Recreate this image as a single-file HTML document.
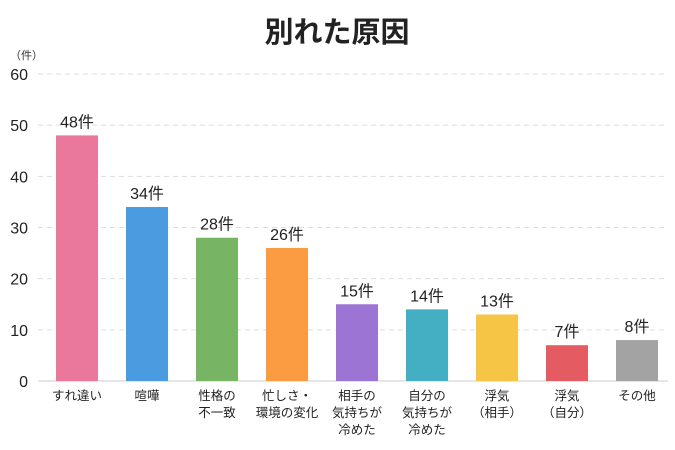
<!DOCTYPE html>
<html><head><meta charset="utf-8"><style>
body{margin:0;background:#fff;}
svg{display:block;font-family:"Liberation Sans","Noto Sans CJK JP",sans-serif;}
</style></head><body>
<svg id="c" width="675" height="450">
<text x="337" y="42" text-anchor="middle" font-size="29" font-weight="bold" fill="#222">別れた原因</text>
<text x="10" y="59" font-size="11" fill="#333">（件）</text>
<g id="grid"></g><g id="bars"></g><g id="labels"></g>
</svg>
<script>
const categories=[["すれ違い"],["喧嘩"],["性格の","不一致"],["忙しさ・","環境の変化"],["相手の","気持ちが","冷めた"],["自分の","気持ちが","冷めた"],["浮気","（相手）"],["浮気","（自分）"],["その他"]];
const values=[48,34,28,26,15,14,13,7,8];
const colors=["#ea779c","#4a9be0","#77b463","#fb9b42","#9c74d4","#44afc3","#f6c545","#e45c62","#a3a3a3"];
const yTicks=[0,10,20,30,40,50,60];
const NS="http://www.w3.org/2000/svg";
const y0=381,yTop=74,x0=38,x1=668;
const y=v=>y0-(v/60)*(y0-yTop);
const xc=i=>77+i*70;
function mk(t,a,p){const e=document.createElementNS(NS,t);for(const k in a)e.setAttribute(k,a[k]);p.appendChild(e);return e;}
const grid=document.getElementById('grid'),bars=document.getElementById('bars'),labels=document.getElementById('labels');
yTicks.forEach(v=>{
 const l=mk('line',{x1:x0,x2:x1,y1:y(v),y2:y(v),stroke:v===0?'#ccc':'#ddd','stroke-dasharray':v===0?'':'5,4','stroke-width':1},grid);
 
 
 const t=mk('text',{x:28,y:y(v)+6,'text-anchor':'end','font-size':16,fill:'#222'},grid);
 t.textContent=v;
 
 
});
values.forEach((v,i)=>{
 const r=mk('rect',{x:xc(i)-21,y:y(v),width:42,height:y0-y(v),fill:colors[i]},bars);
 
 
 const t=mk('text',{x:xc(i),y:y(v)-8,'text-anchor':'middle','font-size':16,fill:'#222'},labels);
 t.textContent=v+'件';
 
 
 categories[i].forEach((s,j)=>{
  const c=mk('text',{x:xc(i),y:400+j*17,'text-anchor':'middle','font-size':12.5,fill:'#222'},labels);
  c.textContent=s;
  
  
 });
});
</script>
</body></html>
